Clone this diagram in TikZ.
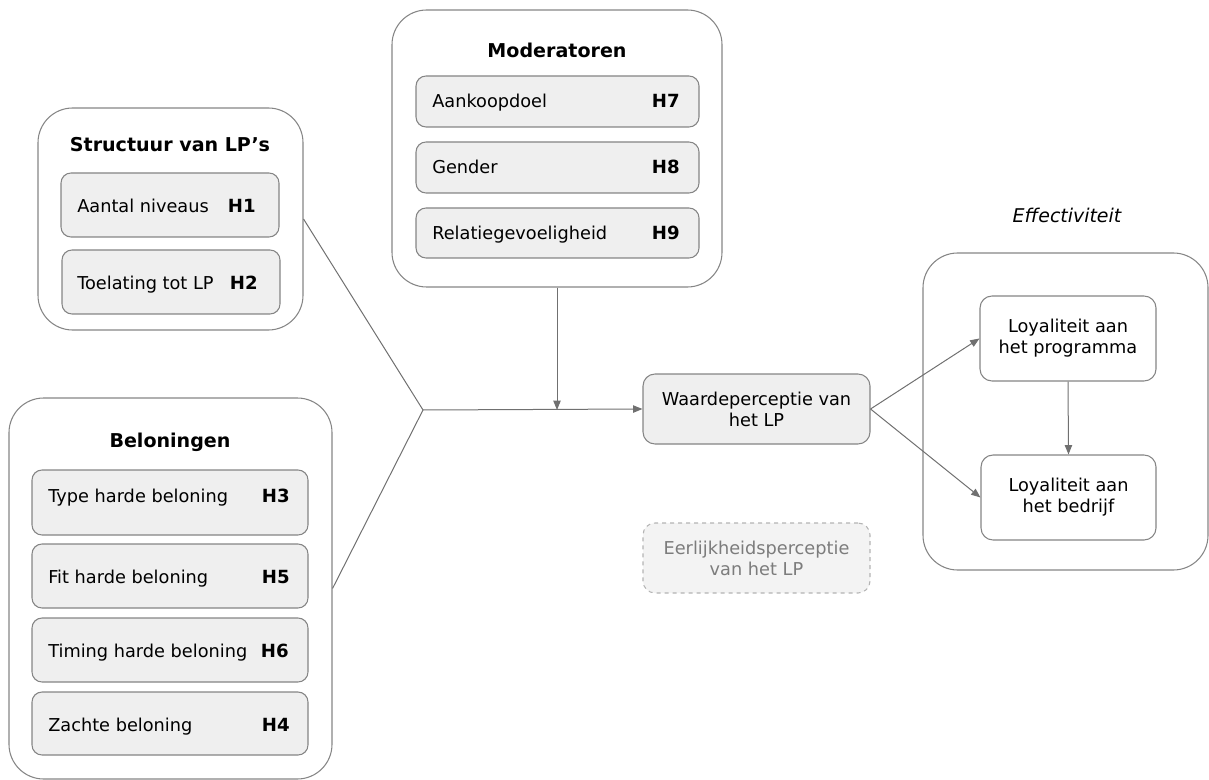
\documentclass[tikz,border=0pt]{standalone}
\usepackage{fontspec}
\setmainfont{DejaVu Sans}
\usetikzlibrary{arrows.meta,fit}
\definecolor{edgegray}{HTML}{707070}
\definecolor{framegray}{HTML}{858585}
\definecolor{itemfill}{HTML}{EFEFEF}
\definecolor{ghostgray}{HTML}{7C7C7C}
\definecolor{ghostline}{HTML}{B4B4B4}
\definecolor{ghostfill}{HTML}{F3F3F3}
\begin{document}
\begin{tikzpicture}[
  x=0.75pt, y=-0.75pt,
  font=\fontsize{13.3}{15.8}\selectfont,
  group/.style={draw=framegray, line width=0.8pt, rounded corners=26pt, inner sep=0pt},
  item/.style={draw=framegray, fill=itemfill, line width=0.8pt, rounded corners=7.5pt, inner sep=0pt},
  plainbox/.style={draw=framegray, fill=white, line width=0.8pt, rounded corners=9pt, inner sep=0pt},
  ghost/.style={draw=ghostline, fill=ghostfill, dashed, line width=0.8pt, rounded corners=9pt, inner sep=0pt},
  boxtext/.style={align=center, inner sep=0pt},
  grouptitle/.style={anchor=base, inner sep=0pt, font=\fontsize{14.3}{17}\selectfont\bfseries},
  itemtext/.style={anchor=base west, inner sep=0pt},
  hyp/.style={anchor=base east, inner sep=0pt, font=\fontsize{13.6}{16}\selectfont\bfseries},
  link/.style={draw=edgegray, line width=0.75pt},
  arrow/.style={link, -{Triangle[length=7pt,width=5.5pt]}, color=edgegray}
]
\useasboundingbox (0,0) rectangle (1209,780);

% --- Structure of loyalty programmes
\node[group, fit={(38,108) (303,330)}] (struct) {};
\node[grouptitle] (structT) at (170,152) {Structuur van LP’s};
\node[item, fit={(61,173) (279,237)}] (h1box) {};
\node[itemtext] (h1t) at (77,213) {Aantal niveaus};
\node[hyp] (h1) at (256,213) {H1};
\node[item, fit={(62,250) (280,314)}] (h2box) {};
\node[itemtext] (h2t) at (77,290) {Toelating tot LP};
\node[hyp] (h2) at (258,290) {H2};

% --- Rewards
\node[group, fit={(9,398) (332,779)}] (rew) {};
\node[grouptitle] (rewT) at (170,447) {Beloningen};
\node[item, fit={(32,470) (308,535)}] (h3box) {};
\node[itemtext] (h3t) at (48,502) {Type harde beloning};
\node[hyp] (h3) at (290,502) {H3};
\node[item, fit={(32,544) (308,608)}] (h5box) {};
\node[itemtext] (h5t) at (48,583) {Fit harde beloning};
\node[hyp] (h5) at (290,583) {H5};
\node[item, fit={(32,618) (308,682)}] (h6box) {};
\node[itemtext] (h6t) at (48,657) {Timing harde beloning};
\node[hyp] (h6) at (289,657) {H6};
\node[item, fit={(32,692) (308,755)}] (h4box) {};
\node[itemtext] (h4t) at (48,731) {Zachte beloning};
\node[hyp] (h4) at (290,731) {H4};

% --- Moderators
\node[group, fit={(392,10) (722,287)}] (mod) {};
\node[grouptitle] (modT) at (557,58) {Moderatoren};
\node[item, fit={(416,76) (699,127)}] (h7box) {};
\node[itemtext] (h7t) at (432,108) {Aankoopdoel};
\node[hyp] (h7) at (680,108) {H7};
\node[item, fit={(416,142) (699,193)}] (h8box) {};
\node[itemtext] (h8t) at (432,174) {Gender};
\node[hyp] (h8) at (680,174) {H8};
\node[item, fit={(416,208) (699,258)}] (h9box) {};
\node[itemtext] (h9t) at (432,240) {Relatiegevoeligheid};
\node[hyp] (h9) at (680,240) {H9};

% --- Mediators
\node[item, rounded corners=9pt, fit={(643,374) (870,444)}] (wp) {};
\node[boxtext] (wpT) at (wp.center) {Waardeperceptie van\\het LP};
\node[ghost, fit={(643,523) (870,593)}] (ep) {};
\node[boxtext, text=ghostgray] (epT) at (ep.center) {Eerlijkheidsperceptie\\van het LP};

% --- Effectiveness
\node[anchor=base, inner sep=0pt, font=\fontsize{14.2}{17}\selectfont\itshape] (effT) at (1067,223) {Effectiviteit};
\node[group, fit={(923,253) (1208,570)}] (eff) {};
\node[plainbox, fit={(980,296) (1156,381)}] (lprog) {};
\node[boxtext] (lprogT) at (lprog.center) {Loyaliteit aan\\het programma};
\node[plainbox, fit={(981,455) (1156,540)}] (lbed) {};
\node[boxtext] (lbedT) at (lbed.center) {Loyaliteit aan\\het bedrijf};

% --- Connectors
\coordinate (join) at (423,410);
\draw[link] (struct.east) -- (join);
\draw[link] (rew.east) -- (join);
\draw[arrow] (join) -- (wp.west);
\draw[arrow] (mod.south) -- (mod.south |- join);
\draw[arrow] (wp.east) -- (lprog.west);
\draw[arrow] (wp.east) -- (lbed.west);
\draw[arrow] (lprog.south) -- (lbed.north);
\end{tikzpicture}
\end{document}
